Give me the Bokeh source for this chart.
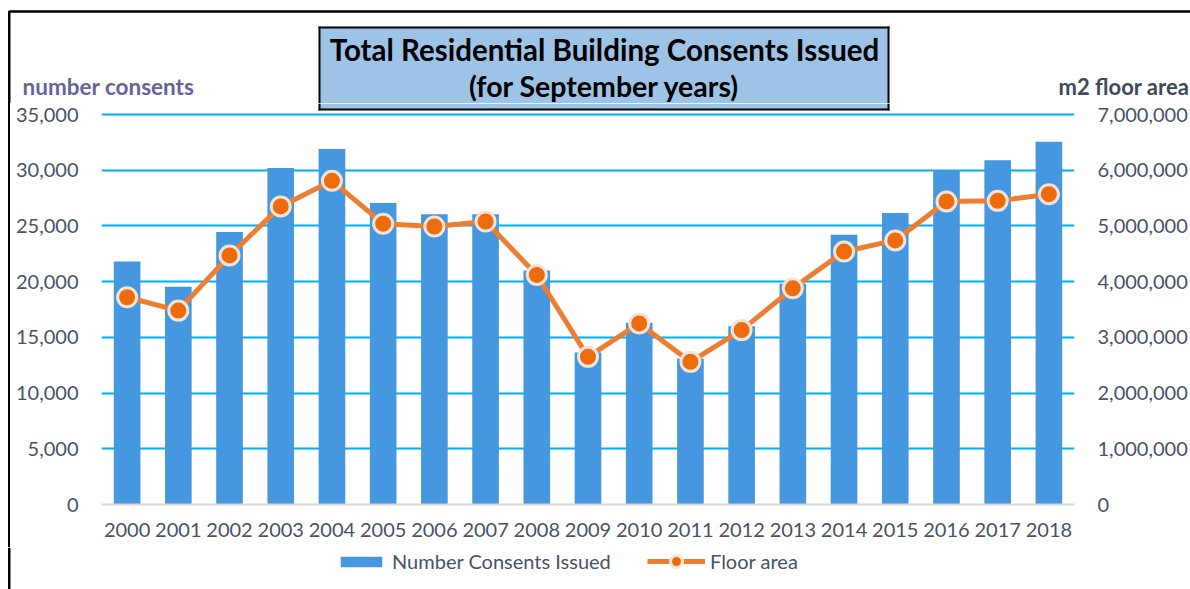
from bokeh.plotting import figure
from bokeh.layouts import column, row
from bokeh.models import (FactorRange, Range1d, LinearAxis, FixedTicker, NumeralTickFormatter,
                          BoxAnnotation, Label, Legend, LegendItem, ColumnDataSource, Span, Div)
from bokeh.embed import file_html
from bokeh.resources import INLINE

# ---------------- data ----------------
years = ["2000", "2001", "2002", "2003", "2004", "2005", "2006", "2007", "2008", "2009",
         "2010", "2011", "2012", "2013", "2014", "2015", "2016", "2017", "2018"]
consents = [21800, 19550, 24450, 30200, 31900, 27050, 26050, 26050, 21000, 13650,
            16300, 13100, 16000, 19800, 24200, 26150, 30000, 30900, 32550]
floor_area = [3720000, 3480000, 4470000, 5350000, 5810000, 5040000, 4990000, 5080000, 4120000, 2650000,
              3250000, 2560000, 3130000, 3880000, 4540000, 4740000, 5440000, 5450000, 5570000]
left_ticks = [0, 5000, 10000, 15000, 20000, 25000, 30000, 35000]
right_ticks = [0, 1000000, 2000000, 3000000, 4000000, 5000000, 6000000, 7000000]
title_lines = ["Total Residential Building Consents Issued", "(for September years)"]
left_title = "number consents"
right_title = "m2 floor area"
series_names = ["Number Consents Issued", "Floor area"]

FONT = "Lato"
TXT = "#44546A"
BAR_C = "#4597E0"
LINE_C = "#ED7D31"
MARK_C = "#EC6C0E"
MARK_EDGE = "#F2E5D8"
BOX_FILL = "#9DC3E6"
TOTAL_W, TOTAL_H = 1190, 589
TOP_H = 103
BOT_H = 42
STRIP_W = 12
MAIN_W = TOTAL_W - STRIP_W
MAIN_H = TOTAL_H - TOP_H - BOT_H          # 444
MB_BOTTOM = 43
FRAME_H = MAIN_H - MB_BOTTOM              # frame runs from the top of the main canvas
AXIS_PX = 390                             # pixels for 0..35,000
Y_END = left_ticks[-1] * FRAME_H / AXIS_PX
Y2_END = right_ticks[-1] * FRAME_H / AXIS_PX
FRAME_LEFT = 101
BOX_L, BOX_R, BOX_T, BOX_B = 319, 888, 27, 109   # title box, page pixels
EDGE = 1.0                                        # half the box border width


def bare(width, height, xr, yr):
    f = figure(width=width, height=height, x_range=xr, y_range=yr,
               x_axis_location=None, y_axis_location=None,
               output_backend="svg", toolbar_location=None,
               min_border=0, min_border_left=0, min_border_right=0,
               min_border_top=0, min_border_bottom=0)
    f.grid.visible = False
    f.outline_line_color = None
    f.background_fill_color = "white"
    f.border_fill_color = "white"
    return f


def filled(fig, l, r, t, b, color, **units):
    fig.add_layout(BoxAnnotation(left=l, right=r, top=t, bottom=b, fill_color=color,
                                 fill_alpha=1, line_color=None, **units))


# ---------------- header (title box, axis titles) ----------------
top = bare(TOTAL_W, TOP_H, Range1d(0, TOTAL_W), Range1d(TOP_H, 0))
top.add_layout(BoxAnnotation(left=8.75, right=TOTAL_W + 50, top=11, bottom=TOP_H + 50,
                             fill_alpha=0, line_color="black", line_alpha=1, line_width=2.5))
filled(top, BOX_L, BOX_R, BOX_T, TOP_H, BOX_FILL)
filled(top, BOX_L - EDGE, BOX_R + EDGE, BOX_T - EDGE, BOX_T + EDGE, "black")
filled(top, BOX_L - EDGE, BOX_L + EDGE, BOX_T - EDGE, TOP_H, "black")
filled(top, BOX_R - EDGE, BOX_R + EDGE, BOX_T - EDGE, TOP_H, "black")


def lab(fig, text, x, y, size, color, align="center"):
    fig.add_layout(Label(x=x, y=y, text=text, text_font=FONT, text_font_size=size,
                         text_color=color, text_font_style="bold",
                         text_align=align, text_baseline="middle"))


lab(top, title_lines[0], 604, 49, "29.5px", "black")
lab(top, title_lines[1], 604, 85.5, "28.5px", "black")
lab(top, left_title, 22, 86, "22.5px", "#64649A", align="left")
lab(top, right_title, 1058, 86, "22px", "#3E4A5A", align="left")

# ---------------- left border beside the main chart ----------------
strip = Div(text='<div style="margin:0 0 0 7.5px;padding:0;width:2.5px;height:%dpx;'
                 'background:#000000;"></div>' % MAIN_H,
            width=STRIP_W, height=MAIN_H, margin=0)

# ---------------- main chart ----------------
src = ColumnDataSource(dict(year=years, consents=consents, area=floor_area))

p = figure(x_range=FactorRange(factors=years), y_range=Range1d(0, Y_END),
           width=MAIN_W, height=MAIN_H, output_backend="svg", toolbar_location=None,
           min_border_left=FRAME_LEFT - STRIP_W, min_border_right=114,
           min_border_top=0, min_border_bottom=MB_BOTTOM)
p.extra_y_ranges = {"area": Range1d(0, Y2_END)}
p.outline_line_color = None
p.background_fill_color = "white"
p.border_fill_color = "white"


def page_to_v(py):
    # page pixel row -> left-axis value
    frame_bottom = TOP_H + FRAME_H
    return (frame_bottom - py) / AXIS_PX * left_ticks[-1]


# lower end of the title box, which reaches into the plot's top margin
scr = dict(left_units="screen", right_units="screen")
hi = Y_END
filled(p, BOX_L - FRAME_LEFT, BOX_R - FRAME_LEFT, hi, page_to_v(BOX_B), BOX_FILL, **scr)
filled(p, BOX_L - FRAME_LEFT - EDGE, BOX_L - FRAME_LEFT + EDGE, hi, page_to_v(BOX_B + EDGE), "black", **scr)
filled(p, BOX_R - FRAME_LEFT - EDGE, BOX_R - FRAME_LEFT + EDGE, hi, page_to_v(BOX_B + EDGE), "black", **scr)
filled(p, BOX_L - FRAME_LEFT - EDGE, BOX_R - FRAME_LEFT + EDGE, page_to_v(BOX_B - EDGE),
       page_to_v(BOX_B + EDGE), "black", **scr)

bars = p.vbar(x="year", top="consents", width=0.52, source=src,
              fill_color=BAR_C, line_color=None)
line = p.line(x="year", y="area", source=src, y_range_name="area",
              line_color=LINE_C, line_width=5)
pts = p.scatter(x="year", y="area", source=src, y_range_name="area", size=19,
                fill_color=MARK_C, line_color=MARK_EDGE, line_width=3)

left = p.yaxis[0]
left.ticker = FixedTicker(ticks=left_ticks)
left.formatter = NumeralTickFormatter(format="0,0")
right = LinearAxis(y_range_name="area", ticker=FixedTicker(ticks=right_ticks),
                   formatter=NumeralTickFormatter(format="0,0"))
p.add_layout(right, "right")

for ax in [left, right]:
    ax.axis_line_color = None
    ax.major_tick_line_color = None
    ax.minor_tick_line_color = None
    ax.major_tick_out = 0
    ax.major_tick_in = 0
    ax.major_label_text_font = FONT
    ax.major_label_text_font_size = "20px"
    ax.major_label_text_color = TXT
left.major_label_standoff = 23
right.major_label_standoff = 23

xa = p.xaxis[0]
xa.axis_line_color = "#D9D9D9"
xa.axis_line_width = 2
xa.major_tick_line_color = None
xa.minor_tick_line_color = None
xa.major_tick_out = 0
xa.major_tick_in = 0
xa.major_label_standoff = 18
xa.major_label_text_font = FONT
xa.major_label_text_font_size = "20px"
xa.major_label_text_color = TXT

p.xgrid.grid_line_color = None
p.ygrid.ticker = FixedTicker(ticks=left_ticks)
p.ygrid.grid_line_color = "#00B0F0"
p.ygrid.grid_line_width = 2

# ---------------- legend strip ----------------
# the same series, hidden, give the legend its swatches
bot = bare(TOTAL_W, BOT_H, FactorRange(factors=years), Range1d(0, 40000))
bot.add_layout(Span(location=8.75, location_units="screen", dimension="height",
                    line_color="black", line_width=2.5))
key_bar = bot.vbar(x="year", top="consents", width=0.52, source=src,
                   fill_color=BAR_C, line_color=None, visible=False)
key_line = bot.line(x="year", y="area", source=src, line_color=LINE_C, line_width=5,
                    visible=False)
key_pt = bot.scatter(x="year", y="area", source=src, fill_color=MARK_C,
                     line_color=MARK_EDGE, line_width=3, visible=False)

common = dict(orientation="horizontal", padding=0, margin=0, border_line_color=None,
              background_fill_alpha=0, label_text_font=FONT, label_text_font_size="20px",
              label_text_color=TXT, label_standoff=5, inactive_fill_alpha=0)
leg1 = Legend(items=[LegendItem(label=series_names[0], renderers=[key_bar])],
              location=(335, 16), glyph_width=52, glyph_height=13, label_height=24, **common)
leg2 = Legend(items=[LegendItem(label=series_names[1], renderers=[key_line, key_pt])],
              location=(647, 13), glyph_width=58, glyph_height=30, label_height=30, **common)
bot.add_layout(leg1)
bot.add_layout(leg2)

layout = column(top, row(strip, p, spacing=0), bot, spacing=0)
open("out.html", "w").write(file_html(layout, INLINE))
